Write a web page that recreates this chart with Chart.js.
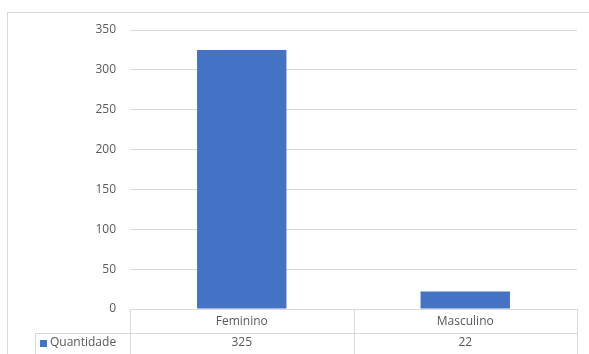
<!DOCTYPE html>
<html>
<head>
<meta charset="utf-8">
<script src="https://cdn.jsdelivr.net/npm/chart.js@4"></script>
<style>
  body { margin: 0; background: #fff; }
  #wrap { width: 589px; height: 354px; position: relative; }
</style>
</head>
<body>
<div id="wrap"><canvas id="myChart1" width="589" height="354"></canvas></div>
<script>
// data
const labels = ['Feminino', 'Masculino'];
const quantidade = [325, 22];
const seriesName = 'Quantidade';
const yTicks = [0, 50, 100, 150, 200, 250, 300, 350];

const barColor = '#4472C4';
const lineColor = '#d9d9d9';
const textColor = '#595959';
const fontFamily = '"Open Sans", "Noto Sans", sans-serif';

// draws the outer frame and the data table under the axis
const tablePlugin = {
  id: 'tablePlugin',
  afterDraw(chart) {
    const c = chart.ctx;
    const area = chart.chartArea;
    const x = chart.scales.x;
    const top = area.bottom;
    const mid = top + 24;
    const bottom = 360;
    const legendLeft = 35.5;
    c.save();
    c.strokeStyle = lineColor;
    c.lineWidth = 1;
    // outer frame
    c.strokeRect(7.5, 12.5, 700, 400);
    // table lines
    c.beginPath();
    c.moveTo(Math.round(area.left) + 0.5, top);
    c.lineTo(Math.round(area.left) + 0.5, bottom);
    for (let i = 0; i < labels.length; i++) {
      const edge = Math.round(x.getPixelForValue(i) + (area.right - area.left) / labels.length / 2) + 0.5;
      c.moveTo(edge, top);
      c.lineTo(edge, bottom);
    }
    c.moveTo(legendLeft, Math.round(mid) + 0.5);
    c.lineTo(area.right, Math.round(mid) + 0.5);
    c.moveTo(legendLeft, mid);
    c.lineTo(legendLeft, bottom);
    c.stroke();
    // legend key
    c.fillStyle = barColor;
    c.fillRect(40, mid + 7, 7, 7);
    c.fillStyle = textColor;
    c.font = '12px ' + fontFamily;
    c.textBaseline = 'middle';
    c.textAlign = 'left';
    c.fillText(seriesName, 50, mid + 10);
    c.textAlign = 'center';
    for (let i = 0; i < quantidade.length; i++) {
      c.fillText(String(quantidade[i]), x.getPixelForValue(i), mid + 10);
    }
    c.restore();
  }
};

var ctx = document.getElementById('myChart1').getContext('2d');
var myChart = new Chart(ctx, {
  type: 'bar',
  data: {
    labels,
    datasets: [{
      label: seriesName,
      data: quantidade,
      backgroundColor: barColor,
      barPercentage: 0.4,
      categoryPercentage: 1
    }]
  },
  options: {
    responsive: false,
    animation: false,
    layout: { padding: { top: 30, right: 12, left: 0, bottom: 0 } },
    plugins: {
      legend: { display: false },
      tooltip: { enabled: false }
    },
    scales: {
      x: {
        grid: { display: false, drawTicks: false },
        border: { display: false },
        ticks: { color: textColor, font: { family: fontFamily, size: 12 }, padding: 5 },
        afterFit(scale) { scale.height = 45; }
      },
      y: {
        min: 0,
        max: 350,
        afterBuildTicks(scale) { scale.ticks = yTicks.map(v => ({ value: v })); },
        grid: { color: lineColor, drawTicks: false },
        border: { display: false },
        ticks: { color: textColor, font: { family: fontFamily, size: 12 }, padding: 14 },
        afterFit(scale) { scale.width = 130; }
      }
    }
  },
  plugins: [tablePlugin]
});
</script>
</body>
</html>
